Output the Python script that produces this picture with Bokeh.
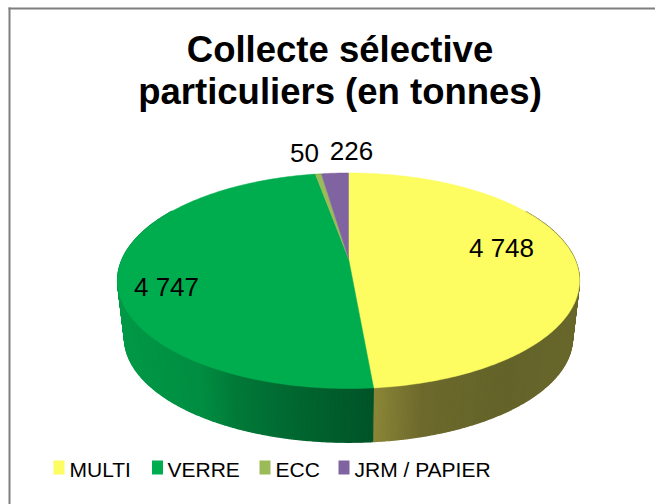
import numpy as np
from bokeh.plotting import figure
from bokeh.embed import file_html
from bokeh.resources import INLINE
from bokeh.core.properties import value

categories = ["MULTI", "VERRE", "ECC", "JRM / PAPIER"]
tonnes = [4748, 4747, 50, 226]
value_labels = ["4 748", "4 747", "50", "226"]
colors = ["#FDFC60", "#00AD4E", "#9BBB59", "#8064A2"]
title_lines = ["Collecte sélective", "particuliers (en tonnes)"]

# label anchors (centre x, baseline y), in page pixels
label_x = [501, 166, 304, 351]
label_y = [247, 286, 152, 150]
legend_sw_x = [53, 151.5, 259, 338]
legend_tx_x = [69, 167, 275, 354]

# side shading stops: x position -> rgb
green_stops = ([117, 200, 235, 300, 372], [(0, 154, 72), (0, 142, 66), (0, 122, 57), (0, 102, 48), (0, 84, 40)])
olive_stops = ([372, 420, 500, 580], [(140, 135, 56), (110, 106, 45), (100, 100, 42), (106, 104, 45)])

CX, AY = 348.0, 258.0      # pie centre as seen in perspective
RX, A, C = 226.0, -49.9, 0.2065   # projective disc parameters
EY, K, DEPTH = 280.2, 0.97, 57.0  # bottom rim: scale and shift


def top(theta):
    u, v = np.sin(theta), np.cos(theta)
    w = 1 + C * v
    return CX + RX * u / w, (AY + A * v) / w


def bottom(theta):
    x, y = top(theta)
    return CX + K * (x - CX), EY + K * (y - EY) + DEPTH


def shade(x, stops):
    xs, rgb = stops
    c = [int(np.interp(x, xs, [s[i] for s in rgb])) for i in range(3)]
    return "#%02x%02x%02x" % tuple(c)


p = figure(width=655, height=504, x_range=(0, 655), y_range=(504, 0),
           output_backend="svg", toolbar_location=None, min_border=0,
           outline_line_color=None, background_fill_color="white")
p.axis.visible = False
p.grid.visible = False

# chart frame (top and left edges)
p.segment(x0=[8, 9], y0=[8, 7], x1=[655, 9], y1=[8, 504], line_color="#7f7f7f", line_width=2)

# side wall
edges = np.radians(np.cumsum([0] + tonnes) / sum(tonnes) * 360)
step = np.radians(0.5)
xs, ys, cs = [], [], []
for t0 in np.arange(np.radians(60), np.radians(300), step):
    t1 = t0 + step
    tm = (t0 + t1) / 2
    if t0 < edges[1] < t1:
        t1 = edges[1]
    x0, y0 = top(t0)
    x1, y1 = top(t1)
    x2, y2 = bottom(t1)
    x3, y3 = bottom(t0)
    xs.append([x0, x1, x2, x3])
    ys.append([y0, y1, y2, y3])
    mid = (x0 + x3 + x1 + x2) / 4
    cs.append(shade(mid, olive_stops) if tm < edges[1] else shade(mid, green_stops))
p.patches(xs, ys, fill_color=cs, line_color=cs, line_width=1.2)

# top surface
for i in range(len(tonnes)):
    th = np.linspace(edges[i], edges[i + 1], 200)
    x, y = top(th)
    p.patch(np.r_[CX, x], np.r_[AY, y], fill_color=colors[i], line_color=colors[i], line_width=0.5)

# value labels
p.text(label_x, label_y, text=value_labels, text_font=value("Liberation Sans"),
       text_font_size="26px", text_color="#000000", text_align="center", text_baseline="alphabetic")

# title
p.text([339.5, 339.5], [49, 91], text=title_lines, text_font=value("Liberation Sans"),
       text_font_style="bold", text_font_size="36.5px", text_color="#000000",
       text_align="center", text_baseline="alphabetic")

# legend
p.rect([x + 5.5 for x in legend_sw_x], [467] * 4, width=11, height=14,
       fill_color=colors, line_color=None)
p.text(legend_tx_x, [468.5] * 4, text=categories, text_font=value("Liberation Sans"),
       text_font_size="21px", text_color="#000000", text_align="left", text_baseline="alphabetic")

open("out.html", "w").write(file_html(p, INLINE))
